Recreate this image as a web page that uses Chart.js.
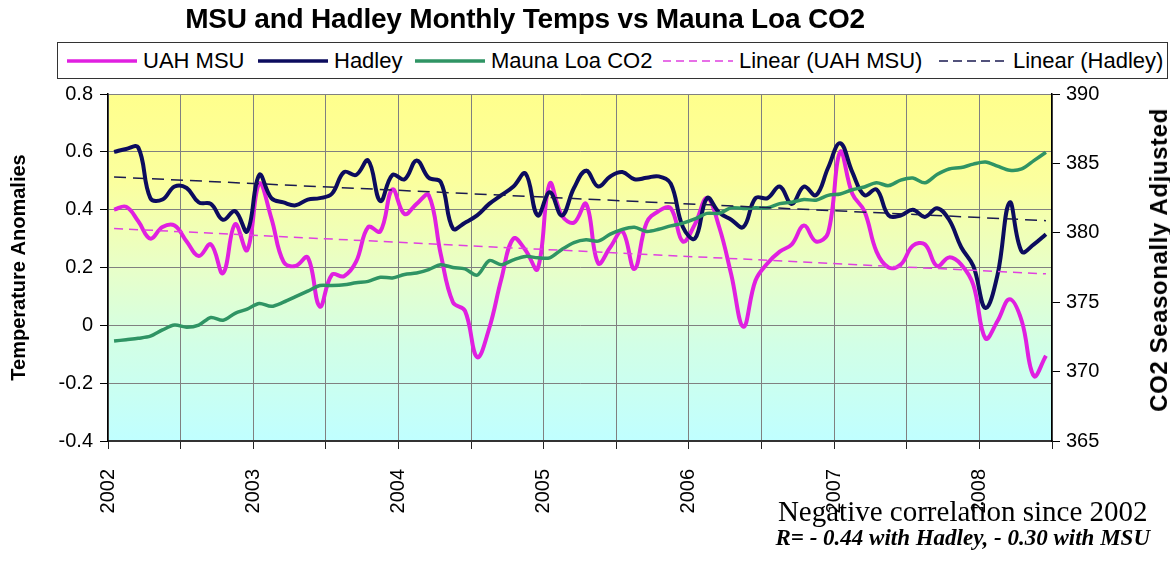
<!DOCTYPE html>
<html><head><meta charset="utf-8">
<script src="https://cdn.jsdelivr.net/npm/chart.js@4.4.1/dist/chart.umd.min.js"></script>
<style>
html,body{margin:0;padding:0;background:#fff;}
#wrap{position:relative;width:1170px;height:569px;overflow:hidden;font-family:"Liberation Sans",Arial,sans-serif;color:#000;}
#c{position:absolute;left:0;top:0;}
#title{position:absolute;left:0;top:3px;width:1050px;text-align:center;font-weight:bold;font-size:28px;letter-spacing:-0.2px;white-space:nowrap;}
#legend{position:absolute;left:57px;top:42px;width:1109px;height:35px;border:1px solid #333;background:#fff;}
.li{position:absolute;top:0;height:35px;display:flex;align-items:center;font-size:22px;white-space:nowrap;}
.li svg{margin-right:6px;}
#rtitle{position:absolute;left:1159px;top:260px;transform:translate(-50%,-50%) rotate(-90deg);font-weight:bold;font-size:24px;letter-spacing:0.6px;white-space:nowrap;}
#note{position:absolute;right:20px;top:496px;text-align:center;font-family:"Liberation Serif","Times New Roman",serif;}
#note .l1{font-size:29px;line-height:30px;}
#note .l2{font-size:23px;line-height:23px;font-weight:bold;font-style:italic;}
</style>
</head><body>
<div id="wrap">
<canvas id="c" width="1170" height="569"></canvas>
<div id="title">MSU and Hadley Monthly Temps vs Mauna Loa CO2</div>
<div id="legend"></div>
<div id="rtitle">CO2 Seasonally Adjusted</div>
<div id="note"><div class="l1">Negative correlation since 2002</div><div class="l2">R= - 0.44 with Hadley, - 0.30 with MSU</div></div>
</div>
<script>
// Monthly values, Jan 2002 .. Jun 2008
const yearLabels = ['2002','2003','2004','2005','2006','2007','2008'];
const msu = [0.40,0.41,0.36,0.30,0.34,0.345,0.29,0.24,0.28,0.18,0.35,0.26,
0.49,0.37,0.22,0.205,0.235,0.065,0.175,0.17,0.22,0.34,0.325,0.47,
0.385,0.42,0.45,0.245,0.08,0.05,-0.11,-0.01,0.16,0.30,0.26,0.195,
0.49,0.38,0.355,0.42,0.215,0.27,0.325,0.195,0.355,0.395,0.405,0.29,
0.35,0.44,0.34,0.175,-0.005,0.155,0.215,0.255,0.28,0.345,0.29,0.32,
0.60,0.455,0.395,0.255,0.20,0.21,0.275,0.28,0.205,0.235,0.21,0.14,
-0.045,0.015,0.09,0.015,-0.175,-0.105];
const hadley = [0.60,0.61,0.615,0.44,0.435,0.48,0.475,0.425,0.42,0.365,0.395,0.325,
0.52,0.44,0.425,0.415,0.435,0.44,0.455,0.53,0.52,0.57,0.43,0.52,
0.505,0.57,0.51,0.495,0.335,0.355,0.38,0.42,0.45,0.48,0.525,0.38,
0.46,0.38,0.475,0.535,0.48,0.515,0.53,0.505,0.51,0.515,0.49,0.34,
0.30,0.44,0.39,0.365,0.34,0.44,0.44,0.48,0.42,0.48,0.45,0.545,
0.63,0.53,0.45,0.47,0.38,0.38,0.40,0.375,0.405,0.365,0.27,0.205,
0.06,0.175,0.425,0.255,0.28,0.315];
const co2 = [372.2,372.3,372.4,372.55,373.0,373.35,373.2,373.35,373.9,373.7,374.2,374.5,
374.9,374.7,375.0,375.4,375.8,376.2,376.2,376.25,376.4,376.5,376.8,376.75,
377.0,377.1,377.35,377.7,377.5,377.4,376.95,378.0,377.7,378.05,378.3,378.2,
378.2,378.8,379.3,379.5,379.4,379.9,380.25,380.4,380.1,380.25,380.5,380.7,
381.0,381.4,381.4,381.8,381.75,381.8,381.8,382.1,382.2,382.4,382.35,382.7,
382.8,383.1,383.3,383.6,383.4,383.8,383.95,383.6,384.2,384.6,384.7,384.95,
385.1,384.8,384.5,384.6,385.2,385.8];
// Trend line end values (first and last month)
const msuTrend = [0.335, 0.178];
const hadleyTrend = [0.513, 0.362];

const COL = {msu:'#E020E0', had:'#0C0C5E', co2:'#2F9464', msuT:'#E040E0', hadT:'#1A1A50'};
const pts = arr => arr.map((v,i)=>({x:i+0.5,y:v}));
const trendPts = t => [{x:0.5,y:t[0]},{x:msu.length-0.5,y:t[1]}];

const datasets = [
 {label:'UAH MSU', data:pts(msu), borderColor:COL.msu, borderWidth:4, tension:0.4, pointRadius:0, yAxisID:'y', order:4},
 {label:'Hadley', data:pts(hadley), borderColor:COL.had, borderWidth:4, tension:0.4, pointRadius:0, yAxisID:'y', order:3},
 {label:'Mauna Loa CO2', data:pts(co2), borderColor:COL.co2, borderWidth:3.5, tension:0.3, pointRadius:0, yAxisID:'y2', order:2},
 {label:'Linear (UAH MSU)', data:trendPts(msuTrend), borderColor:COL.msuT, borderWidth:1.5, borderDash:[9,6], pointRadius:0, yAxisID:'y', order:1},
 {label:'Linear (Hadley)', data:trendPts(hadleyTrend), borderColor:COL.hadT, borderWidth:1.5, borderDash:[12,7], pointRadius:0, yAxisID:'y', order:0}
];

// legend (HTML), built from datasets
const legendPos = [{line:67,w:70},{line:258,w:70},{line:415,w:70},{line:663,w:70,dash:'8,5'},{line:939,w:68,dash:'9,5'}];
const leg = document.getElementById('legend');
datasets.forEach((d,i)=>{
  const p = legendPos[i];
  const el = document.createElement('div');
  el.className='li';
  el.style.left = (p.line-58)+'px';
  const dash = p.dash ? ` stroke-dasharray="${p.dash}"` : '';
  const sw = p.dash ? 1.5 : 3.5;
  el.innerHTML = `<svg width="${p.w}" height="10"><line x1="0" y1="5" x2="${p.w}" y2="5" stroke="${d.borderColor}" stroke-width="${sw}"${dash}/></svg><span>${d.label}</span>`;
  leg.appendChild(el);
});

const bgPlugin = {
  id:'bg',
  beforeDraw(chart){
    const {ctx, chartArea:a} = chart;
    const g = ctx.createLinearGradient(0,a.top,0,a.bottom);
    g.addColorStop(0,'#FFFF8C');
    g.addColorStop(0.25,'#FBFF9E');
    g.addColorStop(0.5,'#E8FFC8');
    g.addColorStop(0.72,'#D2FFE6');
    g.addColorStop(1,'#C0FFFF');
    ctx.save(); ctx.fillStyle=g; ctx.fillRect(a.left,a.top,a.width,a.height); ctx.restore();
  }
};

const tickFont = {family:'"Liberation Sans", Arial, sans-serif', size:20};
new Chart(document.getElementById('c'), {
  type:'line',
  data:{datasets},
  options:{
    responsive:false, animation:false, devicePixelRatio:1,
    layout:{padding:{top:94,left:0,right:0,bottom:0}},
    plugins:{legend:{display:false}, title:{display:false}, tooltip:{enabled:false}},
    scales:{
      x:{type:'linear', min:0, max:78,
        afterFit(s){ s.height = 128; },
        ticks:{stepSize:6, autoSkip:false, maxRotation:90, minRotation:90, padding:20, color:'#000', font:tickFont,
          callback:(v)=> (v%12===0 ? (yearLabels[v/12]||'') : '')},
        grid:{color:'#808080', lineWidth:1, tickLength:8, tickColor:'#222'},
        border:{display:true, color:'#333', width:2}
      },
      y:{position:'left', min:-0.4, max:0.8,
        afterFit(s){ s.width = 108; },
        ticks:{stepSize:0.2, color:'#000', font:tickFont, padding:7, callback:(v)=> (Math.abs(v)<1e-9?'0':(+v.toFixed(1)).toString())},
        grid:{color:'#808080', lineWidth:1, tickLength:8, tickColor:'#000'},
        border:{display:true, color:'#000', width:1.5},
        title:{display:true, text:'Temperature Anomalies', color:'#000', font:{family:'"Liberation Sans", Arial, sans-serif', size:20, weight:'bold'}, padding:{top:7,bottom:0}}
      },
      y2:{position:'right', min:365, max:390,
        afterFit(s){ s.width = 118; },
        ticks:{stepSize:5, color:'#000', font:tickFont, padding:6},
        grid:{drawOnChartArea:false, tickLength:8, tickColor:'#000'},
        border:{display:true, color:'#000', width:1.5}
      }
    }
  },
  plugins:[bgPlugin]
});
</script>
</body></html>
